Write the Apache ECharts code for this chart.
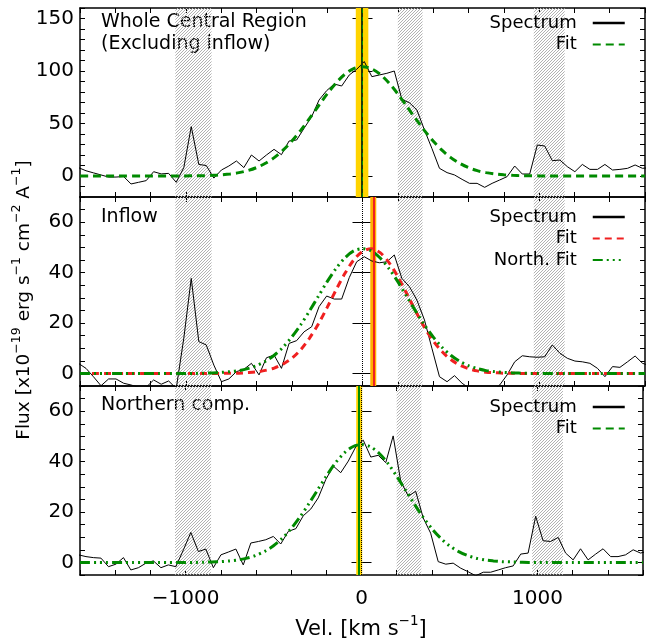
<!DOCTYPE html>
<html>
<head>
<meta charset="utf-8">
<script src="https://cdn.jsdelivr.net/npm/echarts@6/dist/echarts.min.js"></script>
<style>
html, body { margin: 0; padding: 0; background: #fff; }
#chart { width: 646px; height: 643px; }
</style>
</head>
<body>
<div id="chart"></div>
<script>
// velocity bins of the spectra (km/s)
const vel = [-1609,-1566,-1524,-1481,-1438,-1396,-1353,-1311,-1268,-1225,
  -1183,-1140,-1098,-1055,-1012,-970,-927,-885,-842,-799,
  -757,-714,-672,-629,-586,-544,-501,-459,-416,-373,
  -331,-288,-246,-203,-160,-118,-75,-33,
  10,
  53,95,138,180,223,266,308,351,393,436,
  479,521,564,606,649,692,734,777,819,862,
  905,947,990,1032,1075,1118,1160,1203,1245,1288,
  1331,1373,1416,1458,1501,1544,1586,1629];

const specWhole = [8,5,3,1,-1,-1,-0.5,-7.6,-6,-4.4,
  4.1,2,2.5,-6,8,47,11,10,-2,5.7,
  9.5,14.3,8,20,14.3,20,25.4,20.3,33.3,34.3,
  45.4,56.5,72.4,81.3,87.6,85.7,96.2,101.6,
  109,
  94.6,96.2,97.8,100,73,69.8,62.9,43.8,26.3,7.3,
  3.2,1,-3.2,-7,-7,-10.8,-7,-3.8,-0.6,9.5,
  1.9,1.9,29.5,28.6,14.6,15.2,8.9,4.1,11,6.3,
  6.3,11,5.7,6.3,7.3,10.5,7.3,8];

const specInflow = [4,2,-1.3,-4.9,-2.2,-2.2,-3.9,-4.6,-5.5,-5.5,
  -2.6,-4.3,-3,-6,14,37.7,12.6,11.3,3.3,-3.3,
  -2.2,0.7,1.6,4,-0.6,6.2,7.3,2,11.9,13,
  16.5,18.5,26.5,30.7,29.5,29.5,38,44.3,
  46.3,
  44.6,43.9,44.3,47,37.7,34.4,29.1,21.2,10,-1.3,
  -3.3,-0.9,-3.9,-6,-8,-9,-7,-4.6,-0.6,4.6,
  7,6.6,6.4,6.6,11.3,8,6,4.9,4.6,4,
  2,-1.3,2.7,2.4,4.6,6.9,4,3];

const specNorth = [3,2.3,1.9,1.7,-1.7,-0.7,1.9,-3,-2.1,-0.3,
  0.6,-2.1,-1,-1.7,5,11.9,4.3,5.3,-2.1,3,
  4.1,5.3,-1,7.7,8.3,9,10.3,7.3,12.3,13.4,
  18.5,21.2,25.6,32.9,38.2,35.6,40.2,45.8,
  48.5,
  41.8,42.5,39.6,50.2,32.2,26.3,28.2,17.6,11.6,0.3,
  -0.7,-0.3,-2.3,-3.7,-5.3,-3.9,-3.9,-3,-2.1,-1.4,
  3.3,3.7,18.3,8.6,8.3,9.9,3.7,1,5.4,1,
  3.3,5.4,2.3,2.3,3,5,3.7,4.5];

// fits, read every 50 km/s
const fitVel = [-1600,-1550,-1500,-1450,-1400,-1350,-1300,-1250,-1200,-1150,-1100,-1050,
  -1000,-950,-900,-850,-800,-750,-700,-650,-600,-550,-500,-450,-400,-350,-300,-250,-200,-150,-100,-50,
  0,
  50,100,150,200,250,300,350,400,450,500,550,600,650,700,750,800,850,900,950,1000,
  1050,1100,1150,1200,1250,1300,1350,1400,1450,1500,1550,1600];

const fitWhole = [0,0,0,0,0,0,0,0,0,0,0,0,
  0.1,0.2,0.3,0.6,1.1,1.9,3.2,5.1,8.0,12.1,17.5,24.6,33.3,43.5,54.8,66.6,78.2,88.6,96.9,102.2,
  104,
  102.2,96.9,88.6,78.2,66.6,54.8,43.5,33.3,24.6,17.5,12.1,8.0,5.1,3.2,1.9,1.1,0.6,0.3,0.2,0.1,
  0,0,0,0,0,0,0,0,0,0,0,0];

const fitInflow = [0,0,0,0,0,0,0,0,0,0,0,0,
  0,0,0,0,0,0.1,0.1,0.3,0.6,1.2,2.1,3.7,6.0,9.4,14.0,19.6,26.2,33.1,39.6,45.0,
  48.4,
  49.5,47.9,44.0,38.4,31.7,24.8,18.4,13.0,8.7,5.5,3.3,1.9,1.0,0.5,0.3,0.1,0.1,0,0,0,
  0,0,0,0,0,0,0,0,0,0,0,0];

const fitNorthInflow = [0,0,0,0,0,0,0,0,0,0,0,0,
  0,0,0.1,0.2,0.4,0.7,1.1,1.9,3.1,4.8,7.2,10.4,14.5,19.3,24.8,30.6,36.4,41.6,45.8,48.6,
  49.5,
  48.6,45.8,41.6,36.4,30.6,24.8,19.3,14.5,10.4,7.2,4.8,3.1,1.9,1.1,0.7,0.4,0.2,0.1,0,0,
  0,0,0,0,0,0,0,0,0,0,0,0];

const fitNorth = [0,0,0,0,0,0,0,0,0,0,0,0,
  0,0,0.1,0.2,0.3,0.6,1.0,1.7,2.8,4.4,6.6,9.6,13.4,18.0,23.2,28.7,34.2,39.3,43.3,45.9,
  46.8,
  45.9,43.3,39.3,34.2,28.7,23.2,18.0,13.4,9.6,6.6,4.4,2.8,1.7,1.0,0.6,0.3,0.2,0.1,0,0,
  0,0,0,0,0,0,0,0,0,0,0,0];

// sky-line regions (hatched)
const skyBands = [[-1060, -855], [200, 340], [970, 1145]];

const FONT = "'DejaVu Sans', sans-serif";
const GREEN = '#008a00';
const RED = '#f02020';
const DASHDOT3 = [10, 4, 2, 4, 2, 4, 2, 4];

function hatchCanvas() {
  const c = document.createElement('canvas');
  c.width = 3; c.height = 3;
  const g = c.getContext('2d');
  g.strokeStyle = '#b2b2b2';
  g.lineWidth = 1;
  g.beginPath();
  g.moveTo(-1, 4); g.lineTo(4, -1);
  g.moveTo(-1, 1); g.lineTo(1, -1);
  g.moveTo(2, 4); g.lineTo(4, 2);
  g.stroke();
  return c;
}
const hatch = { image: hatchCanvas(), repeat: 'repeat' };

const pairs = (xs, ys) => xs.map((x, i) => [x, ys[i]]);
const minus = v => (v < 0 ? '\u2212' + Math.abs(v) : String(v));

const grids = [
  { left: 80, right: 1, top: 8, height: 189 },
  { left: 80, right: 1, top: 197, height: 189 },
  { left: 80, right: 1, top: 386, height: 189 }
];

const xAxes = [];
[0, 1, 2].forEach(gi => {
  ['bottom', 'top'].forEach(pos => {
    xAxes.push({
      type: 'value', gridIndex: gi, position: pos,
      min: -1600, max: 1600, interval: 200,
      axisLine: { show: true, onZero: false, lineStyle: { color: '#000', width: 1.5 } },
      axisTick: { show: true, inside: true, length: 5, lineStyle: { color: '#000', width: 1 } },
      axisLabel: {
        show: gi === 2 && pos === 'bottom', color: '#000', fontFamily: FONT, fontSize: 20, margin: 14,
        formatter: v => (v % 1000 === 0 ? minus(v) : '')
      },
      splitLine: { show: false }
    });
  });
});

const yRanges = [
  { min: -20, max: 160, minor: 10, majors: [0, 50, 100, 150] },
  { min: -5, max: 70, minor: 5, majors: [0, 20, 40, 60] },
  { min: -5, max: 70, minor: 5, majors: [0, 20, 40, 60] }
];
const yAxes = [];
yRanges.forEach((r, gi) => {
  ['left', 'right'].forEach(pos => {
    yAxes.push({
      type: 'value', gridIndex: gi, position: pos,
      min: r.min, max: r.max, interval: r.minor,
      axisLine: { show: true, onZero: false, lineStyle: { color: '#000', width: 1.5 } },
      axisTick: { show: true, inside: true, length: 5, lineStyle: { color: '#000', width: 1 } },
      axisLabel: {
        show: pos === 'left', color: '#000', fontFamily: FONT, fontSize: 20, margin: 6,
        formatter: v => (r.majors.indexOf(v) >= 0 ? String(v) : '')
      },
      splitLine: { show: false }
    });
    yAxes.push({
      type: 'value', gridIndex: gi, position: pos,
      min: r.min, max: r.max, interval: r.minor,
      axisLine: { show: false },
      axisTick: { show: true, inside: true, length: 10, customValues: r.majors, lineStyle: { color: '#000', width: 1 } },
      axisLabel: { show: false },
      splitLine: { show: false }
    });
  });
});

const specLine = (name, data, xi, yi) => ({
  name, type: 'line', xAxisIndex: xi, yAxisIndex: yi, data, z: 2,
  symbol: 'none', silent: true, lineStyle: { color: '#000', width: 1 }, itemStyle: { color: '#000' }
});
const fitLine = (name, data, xi, yi, color, type) => ({
  name, type: 'line', xAxisIndex: xi, yAxisIndex: yi, data, z: 4,
  symbol: 'none', smooth: 0.3, silent: true, lineStyle: { color, width: 3, type }, itemStyle: { color }
});
const hatchSeries = (xi, yi) => ({
  type: 'line', xAxisIndex: xi, yAxisIndex: yi, data: [], z: 3, silent: true,
  markArea: { silent: true, itemStyle: { color: hatch }, data: skyBands.map(b => [{ xAxis: b[0] }, { xAxis: b[1] }]) }
});
const markerSeries = (xi, yi, band, bandColor, lines) => ({
  type: 'line', xAxisIndex: xi, yAxisIndex: yi, data: [], z: 5, silent: true,
  markArea: { silent: true, itemStyle: { color: bandColor }, data: [[{ xAxis: band[0] }, { xAxis: band[1] }]] },
  markLine: {
    silent: true, symbol: ['none', 'none'], label: { show: false }, animation: false,
    data: lines.map(l => ({ xAxis: l.x, lineStyle: { color: l.color, width: l.width, type: l.type } }))
  }
});

const series = [
  specLine('Spectrum#1', pairs(vel, specWhole), 0, 0),
  hatchSeries(0, 0),
  fitLine('Fit#1', pairs(fitVel, fitWhole), 0, 0, GREEN, [8, 5]),
  markerSeries(0, 0, [-38, 33], '#ffd400', [
    { x: -2, color: '#1c3a08', width: 2, type: 'solid' },
    { x: -2, color: GREEN, width: 1, type: [4, 4] }
  ]),

  specLine('Spectrum#2', pairs(vel, specInflow), 2, 4),
  hatchSeries(2, 4),
  fitLine('Fit#2', pairs(fitVel, fitInflow), 2, 4, RED, [7, 5]),
  fitLine('North. Fit#2', pairs(fitVel, fitNorthInflow), 2, 4, GREEN, DASHDOT3),
  markerSeries(2, 4, [44, 78], '#ffb000', [
    { x: 0, color: '#000', width: 1, type: 'dotted' },
    { x: 61, color: RED, width: 2, type: 'solid' }
  ]),

  specLine('Spectrum#3', pairs(vel, specNorth), 4, 8),
  hatchSeries(4, 8),
  fitLine('Fit#3', pairs(fitVel, fitNorth), 4, 8, GREEN, DASHDOT3),
  markerSeries(4, 8, [-30, 4], '#ffd400', [
    { x: -14, color: GREEN, width: 2, type: 'solid' },
    { x: 0, color: '#000', width: 1, type: 'dotted' }
  ])
];

const legendBase = {
  orient: 'vertical', align: 'right', right: 20, padding: 0, itemGap: 3.5,
  itemWidth: 32, itemHeight: 14, selectedMode: false,
  itemStyle: { opacity: 0 },
  formatter: n => n.split('#')[0],
  textStyle: { fontFamily: FONT, fontSize: 18, color: '#000', padding: [0, 11, 0, 0] }
};
const legends = [
  Object.assign({}, legendBase, { top: 14, data: [{ name: 'Spectrum#1', lineStyle: { width: 2.5 } }, 'Fit#1'] }),
  Object.assign({}, legendBase, { top: 208, data: [{ name: 'Spectrum#2', lineStyle: { width: 2.5 } }, 'Fit#2', 'North. Fit#2'] }),
  Object.assign({}, legendBase, { top: 398, data: [{ name: 'Spectrum#3', lineStyle: { width: 2.5 } }, { name: 'Fit#3', lineStyle: { type: [8, 5] } }] })
];

const txt = (x, y, text, extra) => ({
  type: 'text', x, y, silent: true,
  style: Object.assign({ text, fill: '#000', font: '19px ' + FONT, textVerticalAlign: 'middle', lineHeight: 21.5 }, extra || {})
});

const supRich = {
  n: { fontFamily: FONT, fontSize: 18.5, color: '#000', verticalAlign: 'bottom', lineHeight: 24 },
  s: { fontFamily: FONT, fontSize: 12.5, color: '#000', verticalAlign: 'top', lineHeight: 24 }
};

const graphic = [
  txt(101, 33, 'Whole Central Region\n(Excluding inflow)'),
  txt(101, 217, 'Inflow'),
  txt(101, 405, 'Northern comp.'),
  {
    type: 'text', x: 22, y: 300, rotation: Math.PI / 2, silent: true,
    style: {
      text: '{n|Flux [x10}{s|\u221219}{n| erg s}{s|\u22121}{n| cm}{s|\u22122}{n| A}{s|\u22121}{n|]}',
      rich: supRich, align: 'center', verticalAlign: 'middle'
    }
  },
  {
    type: 'text', x: 361, y: 627, silent: true,
    style: {
      text: '{n|Vel. [km s}{s|\u22121}{n|]}',
      rich: {
        n: { fontFamily: FONT, fontSize: 21, color: '#000', verticalAlign: 'bottom', lineHeight: 26 },
        s: { fontFamily: FONT, fontSize: 13.5, color: '#000', verticalAlign: 'top', lineHeight: 26 }
      },
      align: 'center', verticalAlign: 'middle'
    }
  }
];

const chart = echarts.init(document.getElementById('chart'), null, { renderer: 'canvas' });
chart.setOption({
  animation: false,
  backgroundColor: '#fff',
  grid: grids,
  xAxis: xAxes,
  yAxis: yAxes,
  legend: legends,
  series,
  graphic
});
</script>
</body>
</html>
